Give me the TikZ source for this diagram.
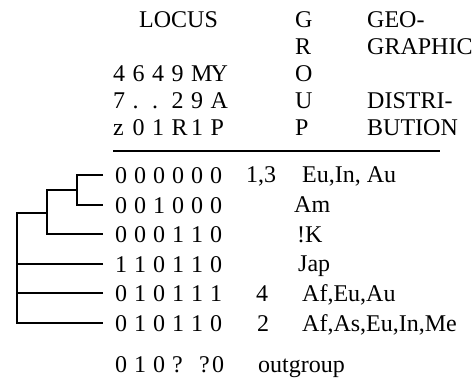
\documentclass[tikz,border=0pt]{standalone}
\usepackage{fontspec}
\setmainfont{Liberation Serif}
\newcommand{\sixslots}[7][19pt]{\makebox[#1][l]{#2}\makebox[#1][l]{#3}\makebox[#1][l]{#4}\makebox[#1][l]{#5}\makebox[#1][l]{#6}#7}
\tikzset{
  txt/.style={inner sep=0pt, anchor=base west, font=\fontsize{24}{28}\selectfont},
  code/.style={inner xsep=12pt, inner ysep=0pt, anchor=west, text height=17pt, text depth=0pt, font=\fontsize{24}{28}\selectfont},
  tree/.style={line width=2pt},
  rule/.style={line width=2pt}
}
\begin{document}
\begin{tikzpicture}[x=1pt,y=-1pt]
\useasboundingbox (0,0) rectangle (476,379);
% header
\node[txt] (locus) at (139,28) {LOCUS};
\node[txt] (h1) at (113,82) {\sixslots[19.5pt]{4}{6}{4}{9}{M}{Y}};
\node[txt] (h2) at (113,109) {\sixslots[19.5pt]{7}{.}{.}{2}{9}{A}};
\node[txt] (h3) at (113,136) {\sixslots[19.5pt]{z}{0}{1}{R}{1}{P}};
\node[txt] (g1) at (295,28) {G};
\node[txt] (g2) at (295,55) {R};
\node[txt] (g3) at (295,82) {O};
\node[txt] (g4) at (295,109) {U};
\node[txt] (g5) at (295,136) {P};
\node[txt] (d1) at (367,28) {GEO-};
\node[txt] (d2) at (367,55) {GRAPHIC};
\node[txt] (d4) at (367,109) {DISTRI-};
\node[txt] (d5) at (367,136) {BUTION};
\coordinate (rl) at (113,151);
\coordinate (rr) at (440,151);
\draw[rule] (rl) -- (rr);
% leaves
\node[code] (l1) at (103,175) {\sixslots{0}{0}{0}{0}{0}{0}};
\node[code] (l2) at (103,204.6) {\sixslots{0}{0}{1}{0}{0}{0}};
\node[code] (l3) at (103,234.2) {\sixslots{0}{0}{0}{1}{1}{0}};
\node[code] (l4) at (103,263.8) {\sixslots{1}{1}{0}{1}{1}{0}};
\node[code] (l5) at (103,293.4) {\sixslots{0}{1}{0}{1}{1}{1}};
\node[code] (l6) at (103,323) {\sixslots{0}{1}{0}{1}{1}{0}};
\node[txt] (og) at (115,372) {\makebox[19pt][l]{0}\makebox[19pt][l]{1}\makebox[19pt][l]{0}\makebox[27pt][l]{?}\makebox[13pt][l]{?}0};
% group numbers and distributions
\node[txt] (n13) at (246,183) {1,3};
\node[txt] (n4) at (256,301.4) {4};
\node[txt] (n2) at (257,331) {2};
\node[txt] (t1) at (302,183) {Eu,In, Au};
\node[txt] (t2) at (294,212.6) {Am};
\node[txt] (t3) at (297,242.2) {!K};
\node[txt] (t4) at (298,271.8) {Jap};
\node[txt] (t5) at (302,301.4) {Af,Eu,Au};
\node[txt] (t6) at (302,331) {Af,As,Eu,In,Me};
\node[txt] (t7) at (258,372) {outgroup};
% tree
\coordinate (j3) at (77,190);
\coordinate (j2) at (47,213);
\coordinate (j1) at (17,268);
\draw[tree] (l1.west) -| (j3) |- (l2.west);
\draw[tree] (j3) -| (j2) |- (l3.west);
\draw[tree] (j2) -| (j1) |- (l6.west);
\draw[tree] (l4.west) -- (l4.west -| j1);
\draw[tree] (l5.west) -- (l5.west -| j1);
\end{tikzpicture}
\end{document}
